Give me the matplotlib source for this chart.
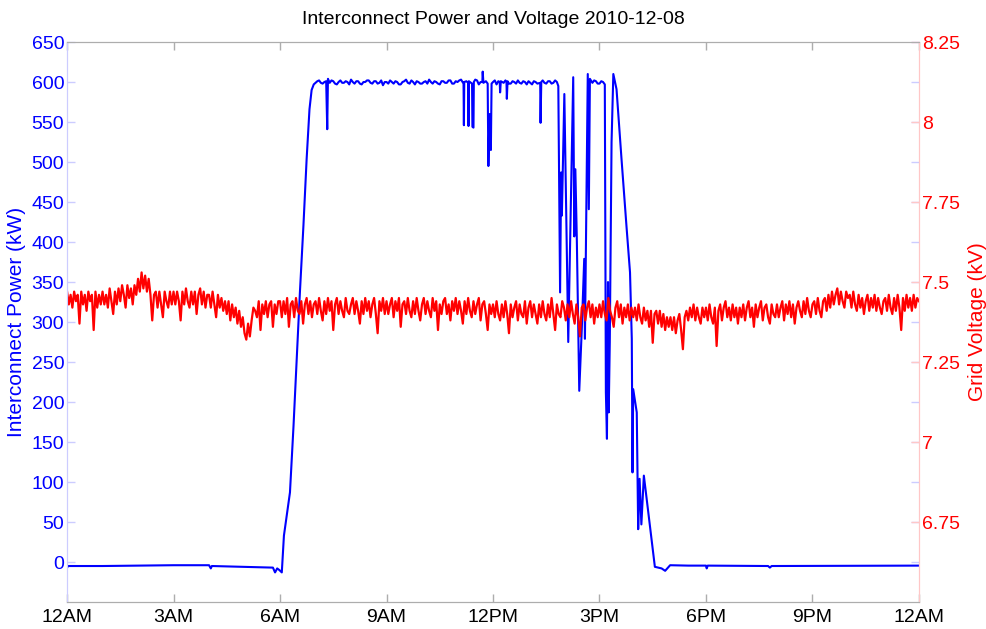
import numpy as np
import matplotlib
matplotlib.use("Agg")
import matplotlib.pyplot as plt

plt.rcParams['font.family'] = ['Liberation Sans', 'DejaVu Sans']

# ---- data ----
title = "Interconnect Power and Voltage 2010-12-08"
x_tick_hours = [0, 3, 6, 9, 12, 15, 18, 21, 24]
x_tick_labels = ["12AM", "3AM", "6AM", "9AM", "12PM", "3PM", "6PM", "9PM", "12AM"]
power_ticks = [0, 50, 100, 150, 200, 250, 300, 350, 400, 450, 500, 550, 600, 650]
volt_ticks = [6.75, 7.0, 7.25, 7.5, 7.75, 8.0, 8.25]
volt_tick_labels = ["6.75", "7", "7.25", "7.5", "7.75", "8", "8.25"]

power_hours = [
    0.00, 0.03, 1.0, 2.0, 3.0, 4.0, 4.05, 4.08, 5.0, 5.8, 5.86, 5.92, 5.98, 6.05,
    6.11, 6.28, 6.38, 6.47, 6.56, 6.66, 6.75, 6.83, 6.89, 6.95,
    7.0, 7.05, 7.1, 7.15, 7.2, 7.25, 7.3, 7.33, 7.35, 7.4, 7.45, 7.5, 7.55, 7.6, 7.65, 7.7, 7.75, 7.8, 7.85, 7.9, 7.95,
    8.0, 8.05, 8.1, 8.15, 8.2, 8.25, 8.3, 8.35, 8.4, 8.45, 8.5, 8.55, 8.6, 8.65, 8.7, 8.75, 8.8, 8.85, 8.9, 8.95,
    9.0, 9.05, 9.1, 9.15, 9.2, 9.25, 9.3, 9.35, 9.4, 9.45, 9.5, 9.55, 9.6, 9.65, 9.7, 9.75, 9.8, 9.85, 9.9, 9.95,
    10.0, 10.05, 10.1, 10.15, 10.2, 10.25, 10.3, 10.35, 10.4, 10.45, 10.5, 10.55, 10.6, 10.65, 10.7, 10.75, 10.8, 10.85, 10.9, 10.95,
    11.0, 11.05, 11.1, 11.17, 11.18, 11.19, 11.25, 11.3, 11.31, 11.32, 11.41, 11.42, 11.45, 11.46,
    11.5, 11.55, 11.6, 11.65, 11.7, 11.71, 11.73, 11.8, 11.85, 11.87, 11.9, 11.92, 11.94, 11.96,
    12.0, 12.05, 12.1, 12.15, 12.19, 12.2, 12.22, 12.3, 12.35, 12.38, 12.39, 12.41, 12.45, 12.5, 12.55,
    12.6, 12.65, 12.7, 12.75, 12.8, 12.85, 12.9, 12.95,
    13.0, 13.05, 13.1, 13.15, 13.2, 13.25, 13.33, 13.34, 13.36, 13.4, 13.45, 13.5, 13.55, 13.6, 13.65, 13.7, 13.75, 13.8,
    13.84, 13.89, 13.92, 13.94, 14.01, 14.12, 14.26, 14.29, 14.32, 14.36, 14.43, 14.5,
    14.57, 14.59, 14.67, 14.70, 14.73, 14.8, 14.85, 14.9, 14.95, 15.0, 15.05, 15.1, 15.15,
    15.18, 15.21, 15.24, 15.26, 15.29, 15.34, 15.39, 15.48, 15.62, 15.76, 15.86, 15.91,
    15.93, 15.95, 16.05, 16.09, 16.13, 16.18, 16.25, 16.56, 16.75, 16.85, 16.99,
    17.5, 18.0, 18.02, 18.05, 19.75, 19.8, 19.85, 24.0,
]
power_kw = [
    -7, -5, -5, -4.5, -4, -4, -8, -5, -6, -7, -13, -8, -10, -13,
    33, 87, 170, 254, 337, 421, 504, 566, 590, 597,
    599, 601, 602, 599, 598, 600, 601, 541, 604, 599, 602, 601, 598, 597, 600, 602, 599, 599, 601, 600, 597,
    603, 600, 598, 601, 601, 598, 597, 600, 600, 602, 602, 599, 598, 601, 601, 598, 599, 602, 596, 600,
    600, 598, 602, 600, 598, 601, 600, 597, 597, 600, 601, 603, 599, 598, 602, 600, 597, 601, 600, 598,
    598, 600, 601, 598, 603, 600, 598, 601, 600, 598, 597, 601, 601, 599, 599, 602, 602, 598, 598, 601,
    600, 602, 603, 598, 546, 600, 601, 599, 545, 601, 598, 544, 543, 600,
    603, 602, 597, 600, 600, 613, 599, 601, 598, 495, 560, 529, 515, 598,
    600, 602, 597, 601, 600, 587, 601, 599, 602, 600, 579, 601, 598, 598, 601,
    600, 598, 602, 599, 598, 601, 600, 597,
    601, 599, 597, 601, 600, 598, 599, 549, 600, 602, 599, 598, 601, 601, 598, 599, 602, 600,
    595, 337, 487, 433, 585, 275, 606, 407, 491, 407, 214, 290,
    379, 279, 610, 441, 604, 599, 602, 601, 598, 598, 601, 600, 597,
    212, 154, 350, 187, 275, 525, 610, 591, 504, 420, 362, 279,
    112, 216, 187, 41, 104, 47, 108, -6, -8, -11, -4,
    -4.5, -4.5, -8, -4.5, -5, -7, -5, -4.5,
]

# grid voltage, kV, read every 3 minutes from 12AM to 12AM (one row per hour)
volt_kv = [
    7.47, 7.43, 7.46, 7.42, 7.47, 7.44, 7.46, 7.37, 7.47, 7.43, 7.46, 7.41, 7.47, 7.44, 7.46, 7.35, 7.47, 7.42, 7.46, 7.43,
    7.47, 7.43, 7.46, 7.42, 7.48, 7.44, 7.40, 7.47, 7.43, 7.48, 7.44, 7.49, 7.46, 7.42, 7.49, 7.45, 7.48, 7.43, 7.49, 7.46,
    7.51, 7.47, 7.53, 7.48, 7.52, 7.47, 7.51, 7.46, 7.38, 7.46, 7.47, 7.42, 7.47, 7.43, 7.39, 7.47, 7.44, 7.42, 7.47, 7.43,
    7.47, 7.43, 7.47, 7.44, 7.38, 7.47, 7.43, 7.48, 7.44, 7.42, 7.47, 7.43, 7.47, 7.40, 7.46, 7.48, 7.43, 7.47, 7.42, 7.46,
    7.46, 7.42, 7.47, 7.43, 7.39, 7.46, 7.42, 7.45, 7.41, 7.44, 7.40, 7.44, 7.38, 7.43, 7.39, 7.42, 7.37, 7.41, 7.36, 7.39,
    7.34, 7.32, 7.37, 7.33, 7.38, 7.42, 7.41, 7.39, 7.44, 7.35, 7.43, 7.40, 7.44, 7.39, 7.43, 7.44, 7.36, 7.43, 7.40, 7.44,
    7.44, 7.39, 7.44, 7.40, 7.45, 7.36, 7.43, 7.44, 7.39, 7.45, 7.41, 7.40, 7.44, 7.37, 7.43, 7.45, 7.40, 7.44, 7.39, 7.43,
    7.44, 7.40, 7.45, 7.41, 7.38, 7.44, 7.40, 7.45, 7.41, 7.44, 7.35, 7.43, 7.45, 7.40, 7.44, 7.41, 7.39, 7.45, 7.41, 7.40,
    7.43, 7.45, 7.40, 7.44, 7.41, 7.37, 7.44, 7.40, 7.45, 7.41, 7.44, 7.39, 7.43, 7.45, 7.40, 7.34, 7.44, 7.41, 7.45, 7.40,
    7.44, 7.40, 7.43, 7.45, 7.39, 7.44, 7.41, 7.45, 7.36, 7.43, 7.44, 7.40, 7.45, 7.41, 7.39, 7.44, 7.40, 7.45, 7.41, 7.38,
    7.43, 7.45, 7.40, 7.44, 7.41, 7.39, 7.45, 7.41, 7.44, 7.35, 7.43, 7.40, 7.44, 7.45, 7.40, 7.43, 7.38, 7.44, 7.41, 7.45,
    7.40, 7.44, 7.41, 7.37, 7.44, 7.40, 7.45, 7.41, 7.39, 7.44, 7.40, 7.43, 7.45, 7.38, 7.43, 7.44, 7.40, 7.35, 7.43, 7.40,
    7.43, 7.39, 7.44, 7.40, 7.38, 7.43, 7.39, 7.44, 7.40, 7.34, 7.43, 7.39, 7.42, 7.44, 7.38, 7.43, 7.40, 7.39, 7.44, 7.37,
    7.42, 7.44, 7.39, 7.43, 7.40, 7.37, 7.43, 7.39, 7.44, 7.40, 7.38, 7.43, 7.39, 7.45, 7.40, 7.35, 7.43, 7.40, 7.39, 7.44,
    7.42, 7.38, 7.43, 7.39, 7.44, 7.40, 7.37, 7.43, 7.39, 7.33, 7.42, 7.43, 7.38, 7.42, 7.44, 7.39, 7.43, 7.37, 7.42, 7.39,
    7.43, 7.39, 7.44, 7.40, 7.38, 7.45, 7.41, 7.39, 7.36, 7.42, 7.44, 7.39, 7.43, 7.37, 7.42, 7.39, 7.43, 7.38, 7.42, 7.39,
    7.42, 7.38, 7.43, 7.39, 7.37, 7.42, 7.38, 7.41, 7.36, 7.41, 7.31, 7.40, 7.41, 7.37, 7.41, 7.36, 7.40, 7.35, 7.39, 7.36,
    7.39, 7.35, 7.39, 7.34, 7.38, 7.40, 7.35, 7.29, 7.39, 7.41, 7.38, 7.42, 7.39, 7.43, 7.38, 7.42, 7.39, 7.37, 7.42, 7.39,
    7.42, 7.38, 7.43, 7.39, 7.37, 7.42, 7.30, 7.41, 7.43, 7.38, 7.42, 7.44, 7.39, 7.42, 7.38, 7.43, 7.39, 7.42, 7.37, 7.42,
    7.39, 7.43, 7.38, 7.42, 7.44, 7.39, 7.42, 7.36, 7.43, 7.39, 7.42, 7.44, 7.38, 7.42, 7.43, 7.39, 7.37, 7.43, 7.40, 7.39,
    7.43, 7.39, 7.42, 7.44, 7.38, 7.43, 7.40, 7.44, 7.39, 7.43, 7.37, 7.42, 7.44, 7.41, 7.39, 7.44, 7.40, 7.45, 7.41, 7.39,
    7.43, 7.44, 7.40, 7.45, 7.41, 7.39, 7.44, 7.45, 7.41, 7.46, 7.42, 7.47, 7.43, 7.46, 7.48, 7.43, 7.47, 7.44, 7.42, 7.47,
    7.45, 7.46, 7.42, 7.47, 7.43, 7.41, 7.46, 7.42, 7.45, 7.40, 7.44, 7.46, 7.41, 7.45, 7.42, 7.46, 7.41, 7.45, 7.42, 7.40,
    7.44, 7.45, 7.41, 7.46, 7.42, 7.40, 7.45, 7.41, 7.46, 7.42, 7.35, 7.45, 7.41, 7.46, 7.42, 7.45, 7.41, 7.46, 7.42, 7.45,
    7.44,
]
volt_hours = np.linspace(0, 24, len(volt_kv))

# ---- styling ----
BLUE = (0, 0, 1)
RED = (1, 0, 0)
LBLUE = (0.8, 0.8, 1.0)
LRED = (1.0, 0.78, 0.78)
GRAY = (0.68, 0.68, 0.68)
FS = 14

fig = plt.figure(figsize=(9.86, 6.29), dpi=100)
ax1 = fig.add_axes([0.068, 0.0429, 0.864, 0.8903])
ax2 = ax1.twinx()

ax1.plot(power_hours, power_kw, color=BLUE, lw=1.5)
ax2.plot(volt_hours, volt_kv, color=RED, lw=1.6)

ax1.set_xlim(0, 24)
ax1.set_ylim(-50, 650)
ax2.set_ylim(6.5, 8.25)

ax1.set_xticks(x_tick_hours)
ax1.set_xticklabels(x_tick_labels, fontsize=FS)
ax1.set_yticks(power_ticks)
ax1.set_yticklabels([str(v) for v in power_ticks], fontsize=FS)
ax2.set_yticks(volt_ticks)
ax2.set_yticklabels(volt_tick_labels, fontsize=FS)

ax1.tick_params(axis='x', direction='in', length=6, width=1, color=GRAY,
                labelcolor='black', top=True, pad=5)
ax1.tick_params(axis='y', direction='in', length=6, width=1, color=LBLUE,
                labelcolor=BLUE, left=True, right=True, pad=2)
ax2.tick_params(axis='y', direction='in', length=6, width=1, color=LRED,
                labelcolor=RED, right=True, left=False, pad=2)

for ax in (ax1, ax2):
    ax.spines['top'].set_color(GRAY)
    ax.spines['bottom'].set_color(GRAY)
    ax.spines['left'].set_color(LBLUE)
    ax.spines['right'].set_color(LRED)

ax1.set_ylabel("Interconnect Power (kW)", color=BLUE, fontsize=15, labelpad=4)
ax2.set_ylabel("Grid Voltage (kV)", color=RED, fontsize=15, labelpad=6)
ax1.set_title(title, fontsize=FS, pad=13)

fig.savefig("out.png", dpi=100)
